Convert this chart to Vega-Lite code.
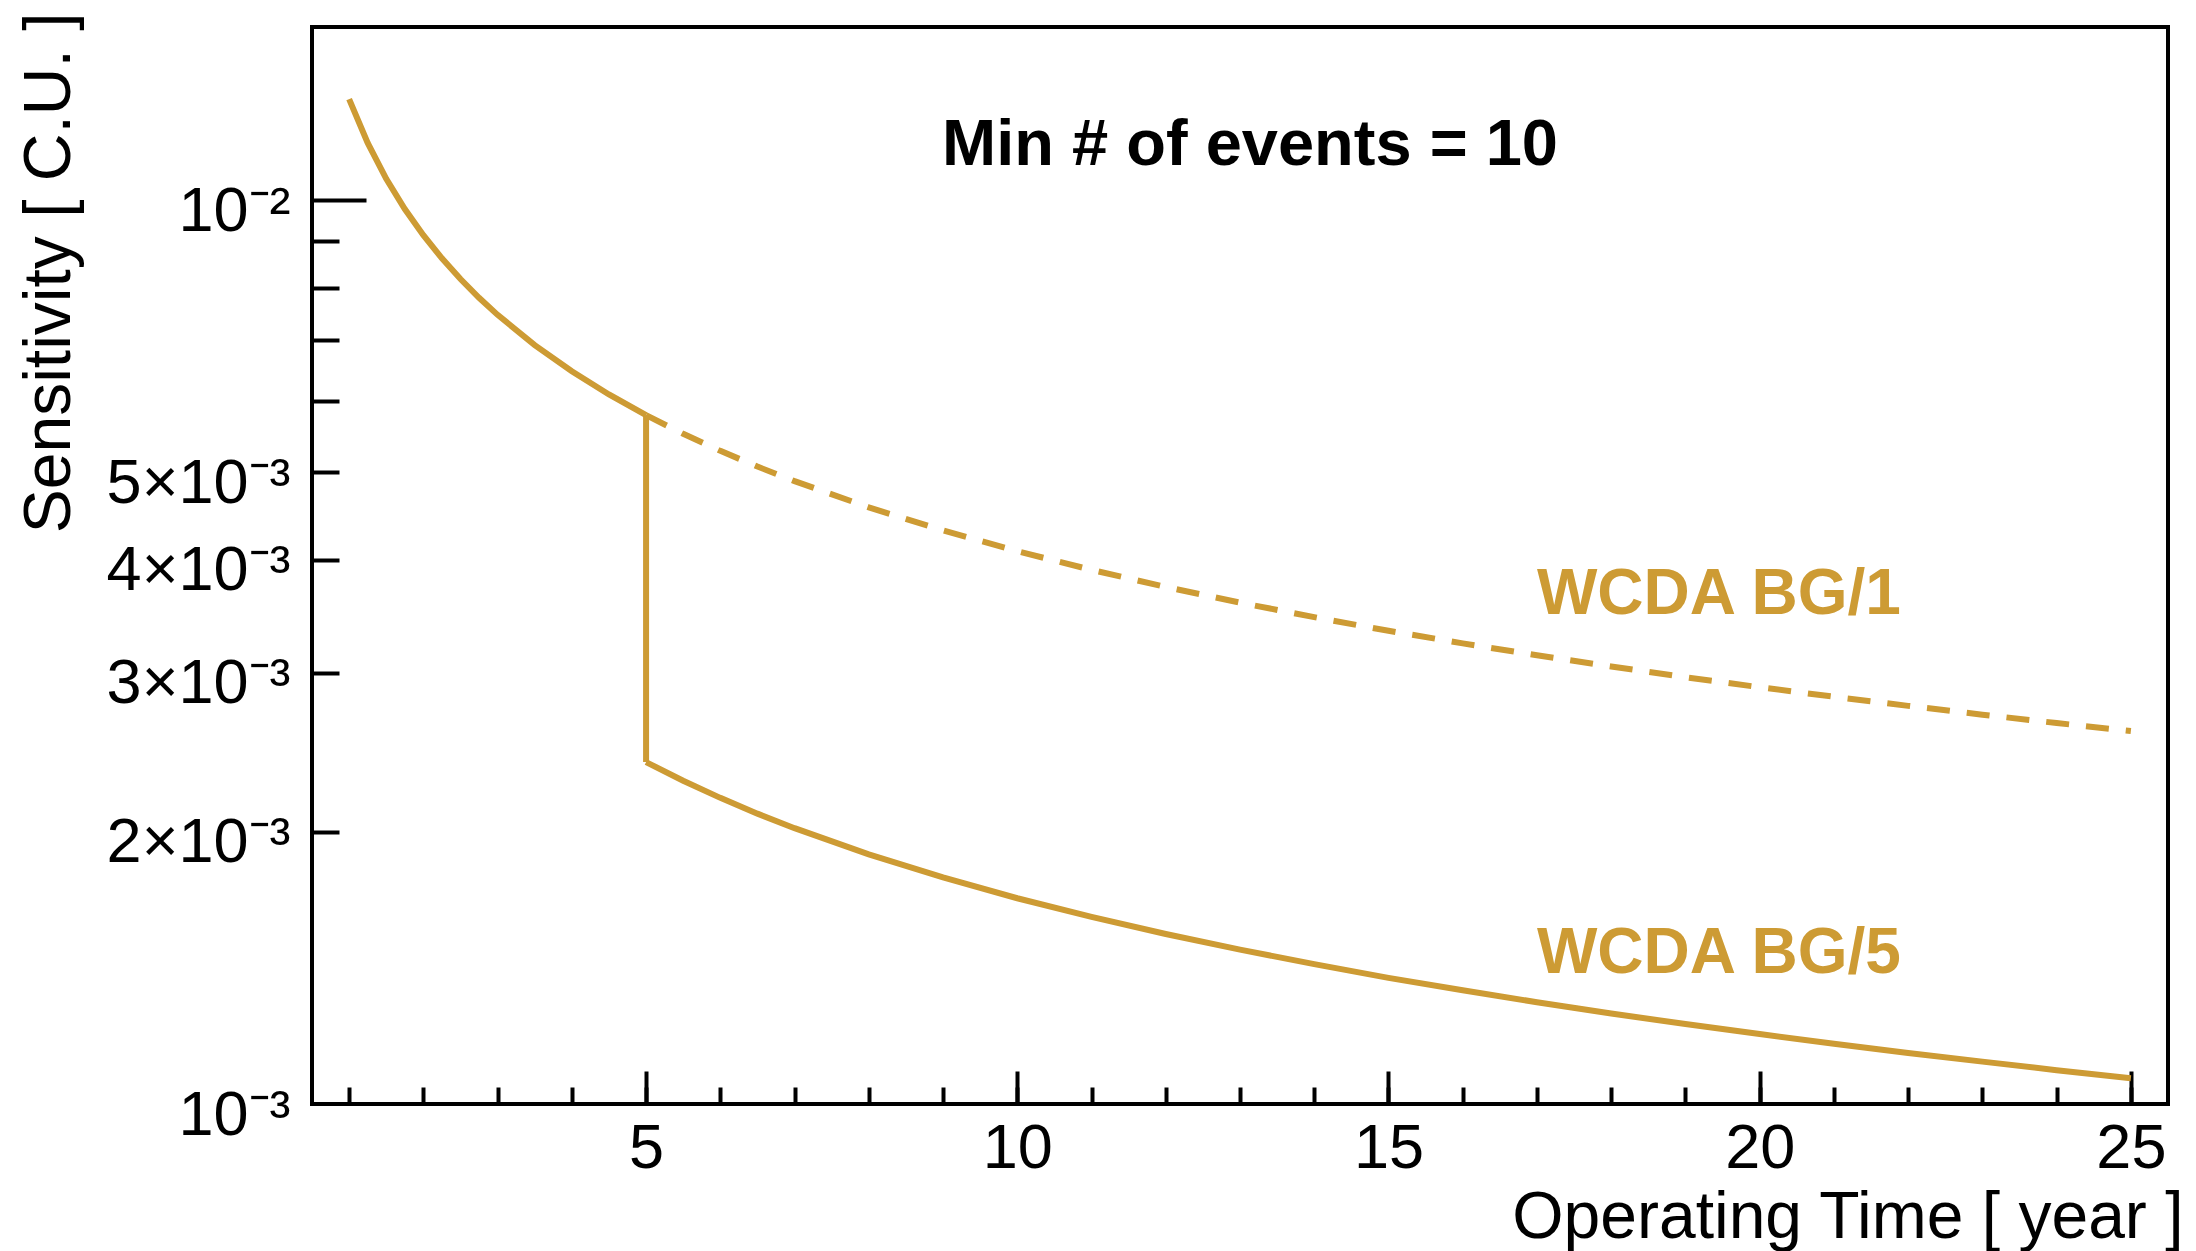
{
  "$schema": "https://vega.github.io/schema/vega-lite/v6.json",
  "width": 1856,
  "height": 1077,
  "autosize": {"type": "none"},
  "padding": {"left": 312, "top": 27, "right": 28, "bottom": 147},
  "background": "#ffffff",
  "config": {
    "view": {"stroke": "#000000", "strokeWidth": 4},
    "axis": {
      "labelFont": "Liberation Sans",
      "titleFont": "Liberation Sans",
      "labelFontSize": 63,
      "titleFontSize": 66,
      "titleFontWeight": "normal",
      "labelColor": "#000000",
      "titleColor": "#000000",
      "tickColor": "#000000",
      "tickWidth": 4,
      "grid": false,
      "domain": false,
      "labelOverlap": false,
      "labelFlush": false,
      "labelLimit": 0,
      "titleLimit": 0
    }
  },
  "datasets": {
    "solid": [
      {"seg": "BG1", "t": 1, "s": 0.01293},
      {"seg": "BG1", "t": 1.25, "s": 0.011565},
      {"seg": "BG1", "t": 1.5, "s": 0.010557},
      {"seg": "BG1", "t": 1.75, "s": 0.009774},
      {"seg": "BG1", "t": 2, "s": 0.009143},
      {"seg": "BG1", "t": 2.25, "s": 0.00862},
      {"seg": "BG1", "t": 2.5, "s": 0.008178},
      {"seg": "BG1", "t": 2.75, "s": 0.007797},
      {"seg": "BG1", "t": 3, "s": 0.007465},
      {"seg": "BG1", "t": 3.5, "s": 0.006911},
      {"seg": "BG1", "t": 4, "s": 0.006465},
      {"seg": "BG1", "t": 4.5, "s": 0.006095},
      {"seg": "BG1", "t": 5, "s": 0.005782},
      {"seg": "drop", "t": 5, "s": 0.005782},
      {"seg": "drop", "t": 5, "s": 0.002389},
      {"seg": "BG5", "t": 5, "s": 0.002389},
      {"seg": "BG5", "t": 5.5, "s": 0.002278},
      {"seg": "BG5", "t": 6, "s": 0.002181},
      {"seg": "BG5", "t": 6.5, "s": 0.002095},
      {"seg": "BG5", "t": 7, "s": 0.002019},
      {"seg": "BG5", "t": 8, "s": 0.001889},
      {"seg": "BG5", "t": 9, "s": 0.001781},
      {"seg": "BG5", "t": 10, "s": 0.001689},
      {"seg": "BG5", "t": 11, "s": 0.001611},
      {"seg": "BG5", "t": 12, "s": 0.001542},
      {"seg": "BG5", "t": 13, "s": 0.001482},
      {"seg": "BG5", "t": 14, "s": 0.001428},
      {"seg": "BG5", "t": 15, "s": 0.001379},
      {"seg": "BG5", "t": 16, "s": 0.001336},
      {"seg": "BG5", "t": 17, "s": 0.001296},
      {"seg": "BG5", "t": 18, "s": 0.001259},
      {"seg": "BG5", "t": 19, "s": 0.001226},
      {"seg": "BG5", "t": 20, "s": 0.001195},
      {"seg": "BG5", "t": 21, "s": 0.001166},
      {"seg": "BG5", "t": 22, "s": 0.001139},
      {"seg": "BG5", "t": 23, "s": 0.001114},
      {"seg": "BG5", "t": 24, "s": 0.00109},
      {"seg": "BG5", "t": 25, "s": 0.001068}
    ],
    "dashed": [
      {"t": 5, "s": 0.005782},
      {"t": 5.5, "s": 0.005513},
      {"t": 6, "s": 0.005279},
      {"t": 6.5, "s": 0.005072},
      {"t": 7, "s": 0.004887},
      {"t": 8, "s": 0.004571},
      {"t": 9, "s": 0.00431},
      {"t": 10, "s": 0.004089},
      {"t": 11, "s": 0.003898},
      {"t": 12, "s": 0.003733},
      {"t": 13, "s": 0.003586},
      {"t": 14, "s": 0.003456},
      {"t": 15, "s": 0.003338},
      {"t": 16, "s": 0.003233},
      {"t": 17, "s": 0.003136},
      {"t": 18, "s": 0.003048},
      {"t": 19, "s": 0.002966},
      {"t": 20, "s": 0.002891},
      {"t": 21, "s": 0.002822},
      {"t": 22, "s": 0.002757},
      {"t": 23, "s": 0.002696},
      {"t": 24, "s": 0.002639},
      {"t": 25, "s": 0.002586}
    ],
    "note": [
      {"t": 13.135, "s": 0.010932, "label": "Min # of events = 10"}
    ],
    "series": [
      {"t": 17.0, "s": 0.003486, "label": "WCDA BG/1"},
      {"t": 17.0, "s": 0.0013974, "label": "WCDA BG/5"}
    ]
  },
  "resolve": {"axis": {"x": "independent", "y": "independent"}},
  "layer": [
    {
      "data": {"name": "solid"},
      "mark": {"type": "line", "color": "#CD9B34", "strokeWidth": 6, "interpolate": "linear"},
      "encoding": {
        "x": {
          "field": "t", "type": "quantitative",
          "scale": {"domain": [0.5, 25.5], "nice": false, "zero": false},
          "axis": {
            "orient": "bottom",
            "values": [5, 10, 15, 20, 25],
            "ticks": false,
            "labelPadding": 63,
            "labelBaseline": "alphabetic",
            "title": "Operating Time [ year ]",
            "titleAlign": "right",
            "titleBaseline": "alphabetic",
            "titleAnchor": "end",
            "titleX": 1871,
            "titleY": 133
          }
        },
        "y": {
          "field": "s", "type": "quantitative",
          "scale": {"type": "log", "domain": [0.001, 0.01554], "nice": false},
          "axis": {
            "orient": "left",
            "values": [0.001, 0.002, 0.003, 0.004, 0.005, 0.01],
            "ticks": false,
            "labelExpr": "datum.value >= 0.0095 ? '10⁻²' : (datum.value < 0.0015 ? '10⁻³' : round(datum.value * 1000) + '×10⁻³')",
            "labelPadding": 22,
            "labelAlign": "right",
            "labelBaseline": "alphabetic",
            "labelOffset": 30,
            "title": "Sensitivity [ C.U. ]",
            "titleAngle": 270,
            "titleAlign": "right",
            "titleBaseline": "alphabetic",
            "titleAnchor": "end",
            "titleX": -243,
            "titleY": -15
          }
        },
        "detail": {"field": "seg", "type": "nominal"}
      }
    },
    {
      "data": {"name": "dashed"},
      "mark": {"type": "line", "color": "#CD9B34", "strokeWidth": 6, "strokeDash": [23, 17], "interpolate": "linear"},
      "encoding": {
        "x": {
          "field": "t", "type": "quantitative",
          "axis": {
            "orient": "bottom",
            "values": [1, 2, 3, 4, 5, 6, 7, 8, 9, 10, 11, 12, 13, 14, 15, 16, 17, 18, 19, 20, 21, 22, 23, 24, 25],
            "tickSize": -17,
            "labels": false,
            "title": null
          }
        },
        "y": {
          "field": "s", "type": "quantitative",
          "axis": {
            "orient": "left",
            "values": [0.002, 0.003, 0.004, 0.005, 0.006, 0.007, 0.008, 0.009],
            "tickSize": -27,
            "labels": false,
            "title": null
          }
        }
      }
    },
    {
      "data": {"name": "note"},
      "mark": {"type": "text", "font": "Liberation Sans", "fontWeight": "bold", "fontSize": 65, "color": "#000000", "align": "center", "baseline": "alphabetic"},
      "encoding": {
        "x": {
          "field": "t", "type": "quantitative",
          "axis": {
            "orient": "bottom",
            "values": [5, 10, 15, 20, 25],
            "tickSize": -33,
            "labels": false,
            "title": null
          }
        },
        "y": {
          "field": "s", "type": "quantitative",
          "axis": {
            "orient": "left",
            "values": [0.01],
            "tickSize": -54,
            "labels": false,
            "title": null
          }
        },
        "text": {"field": "label", "type": "nominal"}
      }
    },
    {
      "data": {"name": "series"},
      "mark": {"type": "text", "font": "Liberation Sans", "fontWeight": "bold", "fontSize": 64, "color": "#CD9B34", "align": "left", "baseline": "alphabetic"},
      "encoding": {
        "x": {"field": "t", "type": "quantitative", "axis": null},
        "y": {"field": "s", "type": "quantitative", "axis": null},
        "text": {"field": "label", "type": "nominal"}
      }
    }
  ]
}
